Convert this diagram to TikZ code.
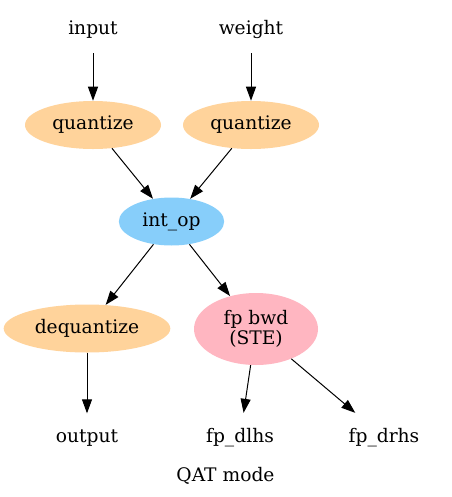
\documentclass[tikz,border=0pt]{standalone}
\usepackage{fontspec}
\setmainfont{DejaVu Serif}
\usetikzlibrary{shapes.geometric,arrows.meta}
\definecolor{qorange}{HTML}{FFD39B}
\definecolor{opblue}{HTML}{87CEFA}
\definecolor{bwdpink}{HTML}{FFB6C1}
\begin{document}
\begin{tikzpicture}[x=0.75pt,y=-0.75pt,line join=round,>={Triangle[length=10.5pt,width=7.5pt]},font=\fontsize{14}{15.5}\selectfont]
	\tikzset{op/.style={ellipse,inner sep=0pt,minimum height=36pt},
		io/.style={inner sep=0pt,minimum height=36pt,minimum width=40pt,anchor=base},
		flow/.style={->,line width=0.75pt}}
	\useasboundingbox (0,0) rectangle (451,497);
	% inputs
	\node[io] (input) at (93,34) {input};
	\node[io] (weight) at (251,34) {weight};
	\node[op,fill=qorange,minimum width=102pt] (qin) at (93,125) {quantize};
	\node[op,fill=qorange,minimum width=102pt] (qw) at (251,125) {quantize};
	% integer op
	\node[op,fill=opblue,minimum width=79pt] (intop) at (171.5,221.5) {int\_op};
	\node[op,fill=qorange,minimum width=125pt] (deq) at (87,328.5) {dequantize};
	\node[op,fill=bwdpink,minimum width=93pt,minimum height=54pt,align=center] (bwd) at (256,329) {fp bwd\\(STE)};
	% outputs
	\node[io] (output) at (87,442) {output};
	\node[io] (dlhs) at (240,442) {fp\_dlhs};
	\node[io] (drhs) at (384,442) {fp\_drhs};
	\node[anchor=base,inner sep=0pt] (title) at (225.5,481.5) {QAT mode};
	\draw[flow] (input) -- (qin);
	\draw[flow] (weight) -- (qw);
	\draw[flow] (qin) -- (intop);
	\draw[flow] (qw) -- (intop);
	\draw[flow] (intop) -- (deq);
	\draw[flow] (intop) -- (bwd);
	\draw[flow] (deq) -- (output);
	\draw[flow] (bwd) -- (dlhs);
	\draw[flow] (bwd) -- (drhs);
\end{tikzpicture}
\end{document}
